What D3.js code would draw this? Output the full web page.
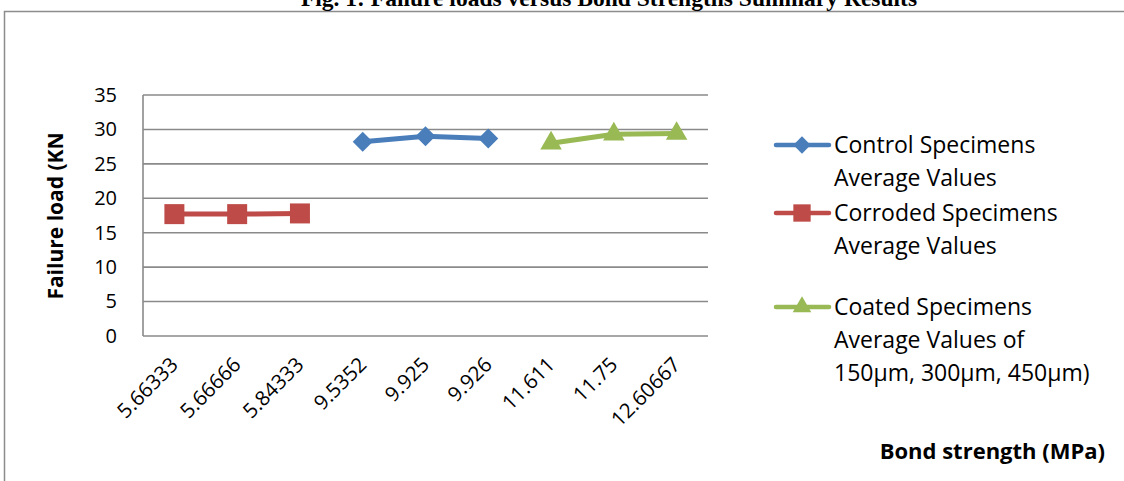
<!DOCTYPE html>
<html>
<head>
<meta charset="utf-8">
<script src="https://cdn.jsdelivr.net/npm/d3@7"></script>
<style>
  body { margin: 0; background: #fff; }
  text { font-family: "Open Sans", sans-serif; }
</style>
</head>
<body>
<div id="chart"></div>
<script>
// bond strength categories (MPa) and failure loads (kN)
var categories = ['5.66333', '5.66666', '5.84333', '9.5352', '9.925', '9.926', '11.611', '11.75', '12.60667']
var controlValues = [null, null, null, 28.2, 29.0, 28.7, null, null, null]
var corrodedValues = [17.7, 17.7, 17.8, null, null, null, null, null, null]
var coatedValues = [null, null, null, null, null, null, 28.0, 29.3, 29.4]
var yTicks = [0, 5, 10, 15, 20, 25, 30, 35]

var W = 1124, H = 481
var plot = {left: 143, right: 708, top: 95, bottom: 336}

var svg = d3.select('#chart').append('svg')
  .attr('width', W)
  .attr('height', H)

// outer frame (runs off the right and bottom of the picture)
svg.append('rect')
  .attr('x', 4.5).attr('y', 11.5)
  .attr('width', W + 20).attr('height', H + 20)
  .attr('fill', 'none')
  .attr('stroke', '#8c8c8c')
  .attr('stroke-width', 1.5)

// caption, cut off by the top edge like in the source
svg.append('text')
  .attr('x', 609).attr('y', 6)
  .attr('text-anchor', 'middle')
  .style('font-family', '"Liberation Serif", "Times New Roman", serif')
  .style('font-weight', 'bold')
  .style('font-size', '23.5px')
  .text('Fig. 1: Failure loads versus Bond Strengths Summary Results')

var x = d3.scaleBand().domain(categories).range([plot.left, plot.right])
var y = d3.scaleLinear().domain([0, 35]).range([plot.bottom, plot.top])

// gridlines
svg.append('g')
  .selectAll('line')
  .data(yTicks)
  .enter().append('line')
  .attr('x1', plot.left).attr('x2', plot.right)
  .attr('y1', function(d) { return y(d) }).attr('y2', function(d) { return y(d) })
  .attr('stroke', '#8a8a8a')
  .attr('stroke-width', 1.6)

svg.append('line')
  .attr('x1', plot.left).attr('x2', plot.left)
  .attr('y1', plot.top).attr('y2', plot.bottom)
  .attr('stroke', '#8a8a8a')
  .attr('stroke-width', 1.6)

// y axis
var yAxis = d3.axisLeft(y).tickValues(yTicks).tickSize(0).tickPadding(26)
var gy = svg.append('g')
  .attr('transform', 'translate(' + plot.left + ',0)')
  .call(yAxis)
gy.select('.domain').remove()
gy.selectAll('text')
  .style('font-family', '"Open Sans", sans-serif')
  .style('font-size', '20px')
  .attr('fill', '#000')

// x axis, labels turned 45 degrees
var xAxis = d3.axisBottom(x).tickSize(0)
var gx = svg.append('g')
  .attr('transform', 'translate(0,' + plot.bottom + ')')
  .call(xAxis)
gx.select('.domain').remove()
gx.selectAll('text')
  .style('font-family', '"Open Sans", sans-serif')
  .style('font-size', '20.5px')
  .attr('fill', '#000')
  .attr('text-anchor', 'end')
  .attr('dy', 0)
  .attr('y', 0)
  .attr('transform', 'translate(5,30) rotate(-45)')

// axis titles
svg.append('text')
  .attr('transform', 'translate(63,216) rotate(-90)')
  .attr('text-anchor', 'middle')
  .style('font-weight', 'bold')
  .style('font-size', '21px')
  .text('Failure load (KN')

svg.append('text')
  .attr('x', 1105).attr('y', 459)
  .attr('text-anchor', 'end')
  .style('font-weight', 'bold')
  .style('font-size', '22px')
  .text('Bond strength (MPa)')

var diamond = {draw: function(ctx, size) { d3.symbolSquare.draw(ctx, size) }}

var series = [
  {name: ['Control Specimens', 'Average Values'], values: controlValues, color: '#4a7ebb', shape: d3.symbolSquare, size: 200, rot: 45, legendY: 145},
  {name: ['Corroded Specimens', 'Average Values'], values: corrodedValues, color: '#be4b48', shape: d3.symbolSquare, size: 400, rot: 0, legendY: 213},
  {name: ['Coated Specimens', 'Average Values of', '150\u00b5m, 300\u00b5m, 450\u00b5m)'], values: coatedValues, color: '#98b954', shape: d3.symbolTriangle, size: 200, rot: 0, legendY: 307}
]

var line = d3.line()
  .defined(function(d) { return d.v != null })
  .x(function(d) { return x(d.c) + x.bandwidth() / 2 })
  .y(function(d) { return y(d.v) })

series.forEach(function(s) {
  var pts = categories.map(function(c, i) { return {c: c, v: s.values[i]} })
  svg.append('path')
    .datum(pts)
    .attr('d', line)
    .attr('fill', 'none')
    .attr('stroke', s.color)
    .attr('stroke-width', 5)
    .attr('stroke-linejoin', 'round')

  svg.append('g')
    .selectAll('path')
    .data(pts.filter(function(d) { return d.v != null }))
    .enter().append('path')
    .attr('d', d3.symbol().type(s.shape).size(s.size))
    .attr('transform', function(d) {
      return 'translate(' + (x(d.c) + x.bandwidth() / 2) + ',' + y(d.v) + ') rotate(' + s.rot + ')'
    })
    .attr('fill', s.color)

  // legend entry
  var lg = svg.append('g').attr('transform', 'translate(0,' + s.legendY + ')')
  lg.append('line')
    .attr('x1', 776).attr('x2', 829)
    .attr('stroke', s.color)
    .attr('stroke-width', 4.5)
    .attr('stroke-linecap', 'round')
  lg.append('path')
    .attr('d', d3.symbol().type(s.shape).size(s.size * 0.75))
    .attr('transform', 'translate(802,0) rotate(' + s.rot + ')')
    .attr('fill', s.color)
  lg.selectAll('text')
    .data(s.name)
    .enter().append('text')
    .attr('x', 834)
    .attr('y', function(d, i) { return 8 + i * 33 })
    .style('font-size', '23px')
    .text(function(d) { return d })
})
</script>
</body>
</html>
